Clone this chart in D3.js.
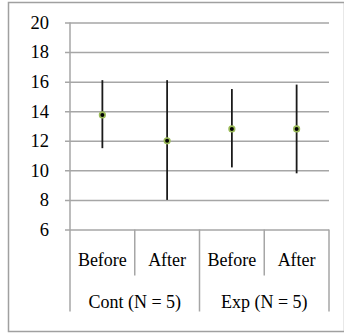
<!DOCTYPE html>
<html>
<head>
<meta charset="utf-8">
<script src="https://cdn.jsdelivr.net/npm/d3@7"></script>
<style>
  body { margin: 0; background: #fff; }
  svg text { font-family: "Liberation Serif", "Times New Roman", serif; fill: #000; }
</style>
</head>
<body>
<div id="chart"></div>
<script>
// data
const conditions = ['Before', 'After', 'Before', 'After'];
const groups = ['Cont (N = 5)', 'Exp (N = 5)'];
const means = [13.75, 12.0, 12.8, 12.8];
const upper = [16.1, 16.1, 15.5, 15.8];
const lower = [11.5, 8.0, 10.2, 9.8];
const yTicks = [6, 8, 10, 12, 14, 16, 18, 20];

const W = 344, H = 333;
const margin = {top: 22.5, right: 15, bottom: 103.5, left: 70};
const width = W - margin.left - margin.right;
const height = H - margin.top - margin.bottom;
const gridColor = '#a6a6a6';

const svg = d3.select('#chart').append('svg')
    .attr('width', W)
    .attr('height', H);

// outer frame
svg.append('rect')
    .attr('x', 8.5).attr('y', 2.5)
    .attr('width', 336).attr('height', 329)
    .attr('fill', 'none')
    .attr('stroke', '#a0a0a0')
    .attr('stroke-width', 1.5);

const g = svg.append('g')
    .attr('transform', 'translate(' + margin.left + ',' + margin.top + ')');

const yScale = d3.scaleLinear().domain([6, 20]).range([height, 0]);
const xScale = d3.scaleBand().domain(d3.range(conditions.length)).range([0, width]);

// y axis + gridlines
const yAxisG = g.append('g')
    .call(d3.axisLeft(yScale).tickValues(yTicks).tickSize(5).tickPadding(16))
    .attr('font-family', null)
    .attr('font-size', null);
yAxisG.select('.domain').remove();
yAxisG.selectAll('.tick line')
    .attr('x1', -5).attr('x2', width)
    .attr('stroke', gridColor).attr('stroke-width', 1.5);
yAxisG.selectAll('.tick text')
    .style('font-family', '"Liberation Serif", serif')
    .style('font-size', '18.5px');

// vertical axis line and separators under the plot
g.append('line')
    .attr('x1', 0).attr('x2', 0)
    .attr('y1', 0).attr('y2', height + 82)
    .attr('stroke', gridColor).attr('stroke-width', 1.5);

const seps = d3.range(1, conditions.length + 1);
g.selectAll('.sep')
    .data(seps)
    .join('line')
    .attr('class', 'sep')
    .attr('x1', d => xScale(d) !== undefined ? xScale(d) : width)
    .attr('x2', d => xScale(d) !== undefined ? xScale(d) : width)
    .attr('y1', height)
    .attr('y2', d => d % 2 === 0 ? height + 82 : height + 46)
    .attr('stroke', gridColor).attr('stroke-width', 1.5);

// category labels
g.selectAll('.cond')
    .data(conditions)
    .join('text')
    .attr('class', 'cond')
    .attr('x', (d, i) => xScale(i) + xScale.bandwidth() / 2)
    .attr('y', height + 36.5)
    .attr('text-anchor', 'middle')
    .style('font-size', '18px')
    .text(d => d);

g.selectAll('.grp')
    .data(groups)
    .join('text')
    .attr('class', 'grp')
    .attr('x', (d, i) => xScale(i * 2) + xScale.bandwidth())
    .attr('y', height + 78.5)
    .attr('text-anchor', 'middle')
    .style('font-size', '18px')
    .text(d => d);

// error bars
const cx = i => xScale(i) + xScale.bandwidth() / 2;
g.selectAll('.err')
    .data(means)
    .join('line')
    .attr('class', 'err')
    .attr('x1', (d, i) => cx(i)).attr('x2', (d, i) => cx(i))
    .attr('y1', (d, i) => yScale(upper[i]))
    .attr('y2', (d, i) => yScale(lower[i]))
    .attr('stroke', '#1a1a1a').attr('stroke-width', 1.8);

// mean markers
g.selectAll('.dot')
    .data(means)
    .join('circle')
    .attr('class', 'dot')
    .attr('cx', (d, i) => cx(i))
    .attr('cy', d => yScale(d))
    .attr('r', 2.8)
    .attr('fill', '#000')
    .attr('stroke', '#9bbb59')
    .attr('stroke-width', 1.6);
</script>
</body>
</html>
